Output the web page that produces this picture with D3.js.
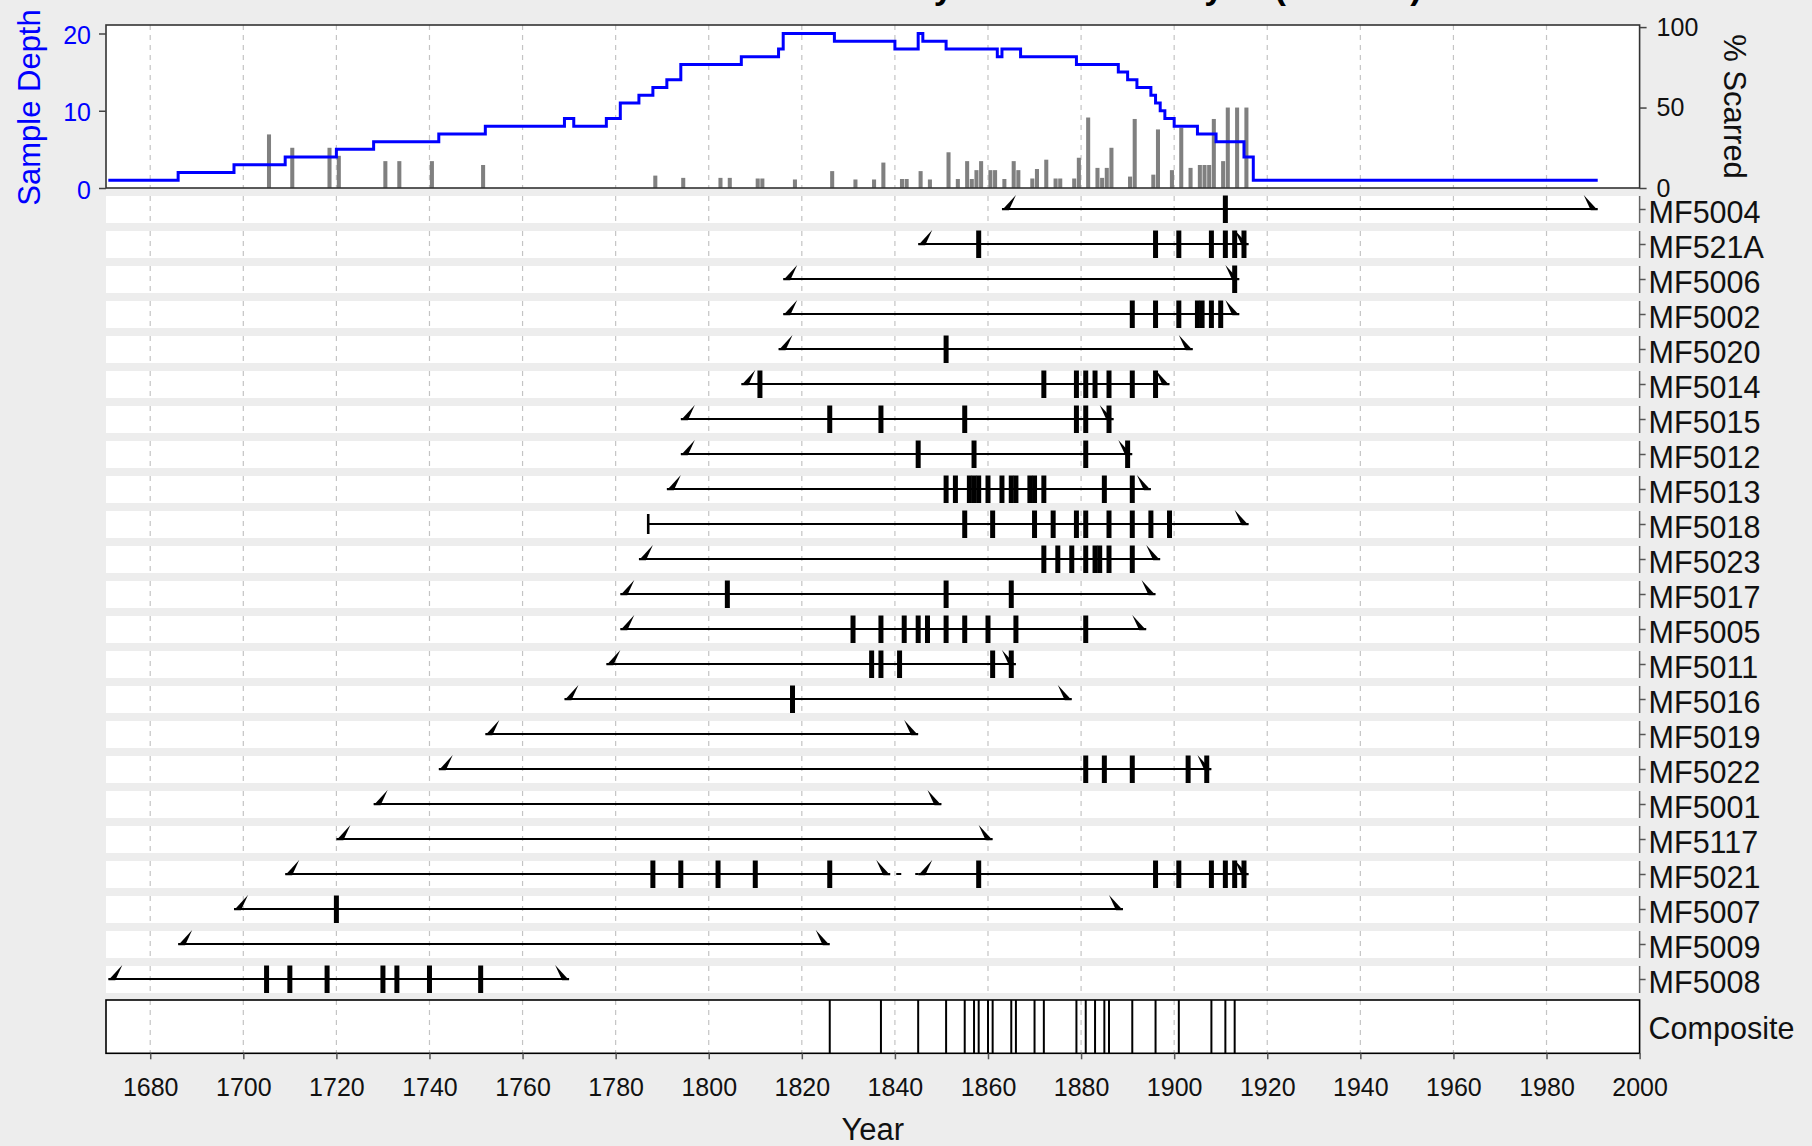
<!DOCTYPE html>
<html>
<head>
<meta charset="utf-8">
<script src="https://cdn.jsdelivr.net/npm/d3@7/dist/d3.min.js"></script>
<style>
    body { margin: 0; background: #ededed; }
    svg { display: block; font-family: "Liberation Sans", Arial, sans-serif; }
</style>
</head>
<body>
<svg id="chart" width="1812" height="1146"></svg>
<script>
// Series, top to bottom
const seriesNames = ["MF5004", "MF521A", "MF5006", "MF5002", "MF5020", "MF5014", "MF5015", "MF5012",
    "MF5013", "MF5018", "MF5023", "MF5017", "MF5005", "MF5011", "MF5016", "MF5019", "MF5022",
    "MF5001", "MF5117", "MF5021", "MF5007", "MF5009", "MF5008"];
const firstYears = [1863, 1845, 1816, 1816, 1815, 1807, 1794, 1794, 1791, 1787, 1785, 1781, 1781,
    1778, 1769, 1752, 1742, 1728, 1720, 1709, 1698, 1686, 1671];
const lastYears = [1991, 1916, 1914, 1914, 1904, 1899, 1887, 1891, 1895, 1916, 1897, 1896, 1894,
    1866, 1878, 1845, 1908, 1850, 1861, 1916, 1889, 1826, 1770];
// series that start at the pith (plain tick instead of a wedge)
const pithSeries = ["MF5018"];
// non-recording gap (dashed)
const gapSeries = ["MF5021"];
const gapFrom = [1839];
const gapTo = [1845];

const scarYears = [
    [1911],
    [1858, 1896, 1901, 1908, 1911, 1913, 1915],
    [1913],
    [1891, 1896, 1901, 1905, 1906, 1908, 1910],
    [1851],
    [1811, 1872, 1879, 1881, 1883, 1886, 1891, 1896],
    [1826, 1837, 1855, 1879, 1881, 1886],
    [1845, 1857, 1881, 1890],
    [1851, 1853, 1856, 1857, 1858, 1860, 1863, 1865, 1866, 1869, 1870, 1872, 1885, 1891],
    [1855, 1861, 1870, 1874, 1879, 1881, 1886, 1891, 1895, 1899],
    [1872, 1875, 1878, 1881, 1883, 1884, 1886, 1891],
    [1804, 1851, 1865],
    [1831, 1837, 1842, 1845, 1847, 1851, 1855, 1860, 1866, 1881],
    [1835, 1837, 1841, 1861, 1865],
    [1818],
    [],
    [1881, 1885, 1891, 1903, 1907],
    [],
    [],
    [1788, 1794, 1802, 1810, 1826, 1858, 1896, 1901, 1908, 1911, 1913, 1915],
    [1720],
    [],
    [1705, 1710, 1718, 1730, 1733, 1740, 1751]
];

// Composite fire years
const compositeYears = [1826, 1837, 1845, 1851, 1855, 1857, 1858, 1860, 1861, 1865, 1866, 1870,
    1872, 1879, 1881, 1883, 1885, 1886, 1891, 1896, 1901, 1908, 1911, 1913];

// Sample depth (step starts)
const depthYears = [1671, 1686, 1698, 1709, 1720, 1728, 1742, 1752, 1769, 1771, 1778, 1781, 1785,
    1788, 1791, 1794, 1807, 1815, 1816, 1827, 1840, 1845, 1846, 1851, 1862, 1863, 1867, 1879, 1888,
    1890, 1892, 1895, 1896, 1897, 1898, 1900, 1905, 1909, 1915, 1917, 1991];
const depthValues = [1, 2, 3, 4, 5, 6, 7, 8, 9, 8, 9, 11, 12, 13, 14, 16, 17, 18, 20, 19, 18, 20,
    19, 18, 17, 18, 17, 16, 15, 14, 13, 12, 11, 10, 9, 8, 7, 6, 4, 1, 1];

// Percent scarred
const pctYears = [1705, 1710, 1718, 1720, 1730, 1733, 1740, 1751, 1788, 1794, 1802, 1804, 1810,
    1811, 1818, 1826, 1831, 1835, 1837, 1841, 1842, 1845, 1847, 1851, 1853, 1855, 1856, 1857, 1858,
    1860, 1861, 1863, 1865, 1866, 1869, 1870, 1872, 1874, 1875, 1878, 1879, 1881, 1883, 1884, 1885,
    1886, 1890, 1891, 1895, 1896, 1899, 1901, 1903, 1905, 1906, 1907, 1908, 1910, 1911, 1913, 1915];
const pctValues = [33.3, 25, 25, 20, 16.7, 16.7, 16.7, 14.3, 7.7, 6.3, 6.3, 6.3, 5.9,
    5.9, 5.3, 10.5, 5.3, 5.3, 15.8, 5.6, 5.6, 10.5, 5.3, 22.2, 5.6, 16.7, 5.6, 11.1, 16.7,
    11.1, 11.1, 5.6, 16.7, 11.1, 5.9, 11.8, 17.6, 5.9, 5.9, 5.9, 18.8, 43.8, 12.5, 6.3, 12.5,
    25, 7.1, 42.9, 8.3, 36.4, 11.1, 37.5, 12.5, 14.3, 14.3, 14.3, 42.9, 16.7, 50, 50, 50];

const xTicks = d3.range(1680, 2001, 20);
const depthTicks = [0, 10, 20];
const pctTicks = [0, 50, 100];

// Layout
const left = 106, right = 1639.6;
const topY = 25, topBottom = 188;
const compTop = 1000, compBottom = 1053.3;

const svg = d3.select("#chart");

const x = d3.scaleLinear().domain([1670.5, 2000]).range([left, right]);
const yDepth = d3.scaleLinear().domain([0, 21.1]).range([topBottom, topY]);
const yPct = d3.scaleLinear().domain([0, 101.3]).range([topBottom, topY]);
const yRow = d3.scalePoint().domain(seriesNames).range([209, 979]);

// Title (cropped at the top of the picture, only descenders show)
svg.append("text")
    .attr("x", 1422)
    .attr("y", -0.8)
    .attr("text-anchor", "end")
    .style("font-size", "35px")
    .style("font-weight", "bold")
    .text("Fire History of Trees Surveyed (MF Site)");

// ---------- top panel ----------
svg.append("rect")
    .attr("x", left).attr("y", topY)
    .attr("width", right - left).attr("height", topBottom - topY)
    .attr("fill", "white");

svg.append("g").selectAll("line")
    .data(xTicks.filter(d => d < 2000))
    .join("line")
    .attr("x1", d => x(d)).attr("x2", d => x(d))
    .attr("y1", topY).attr("y2", topBottom)
    .attr("stroke", "#c4c4c4").attr("stroke-width", 1.2)
    .attr("stroke-dasharray", "5,5");

svg.append("g").selectAll("rect")
    .data(pctYears.map((yr, i) => ({ yr, p: pctValues[i] })))
    .join("rect")
    .attr("x", d => x(d.yr) + 0.4)
    .attr("width", d => x(d.yr + 1) - x(d.yr) - 0.6)
    .attr("y", d => yPct(d.p))
    .attr("height", d => yPct(0) - yPct(d.p))
    .attr("fill", "#808080");

const depthLine = d3.line()
    .x(d => x(d[0]))
    .y(d => yDepth(d[1]))
    .curve(d3.curveStepAfter);

svg.append("path")
    .datum(depthYears.map((yr, i) => [yr, depthValues[i]]))
    .attr("d", depthLine)
    .attr("fill", "none")
    .attr("stroke", "#0000ff")
    .attr("stroke-width", 3);

svg.append("rect")
    .attr("x", left).attr("y", topY)
    .attr("width", right - left).attr("height", topBottom - topY)
    .attr("fill", "none").attr("stroke", "#333").attr("stroke-width", 1.6);

const depthAxis = svg.append("g")
    .attr("transform", `translate(${left},0)`)
    .call(d3.axisLeft(yDepth).tickValues(depthTicks).tickSize(7).tickPadding(8));
depthAxis.select(".domain").remove();
depthAxis.selectAll("line").attr("stroke", "#444").attr("stroke-width", 1.5);
depthAxis.selectAll("text").attr("fill", "#0000ff").attr("dy", "0.4em").style("font-size", "25px");

const pctAxis = svg.append("g")
    .attr("transform", `translate(${right},0)`)
    .call(d3.axisRight(yPct).tickValues(pctTicks).tickSize(7).tickPadding(10));
pctAxis.select(".domain").remove();
pctAxis.selectAll("line").attr("stroke", "#444").attr("stroke-width", 1.5);
pctAxis.selectAll("text").attr("fill", "#111").style("font-size", "25px");

svg.append("text")
    .attr("transform", `translate(40,${(topY + topBottom) / 2 + 1}) rotate(-90)`)
    .attr("text-anchor", "middle")
    .attr("fill", "#0000ff")
    .style("font-size", "31px")
    .text("Sample Depth");

svg.append("text")
    .attr("transform", `translate(1724,${(topY + topBottom) / 2}) rotate(90)`)
    .attr("text-anchor", "middle")
    .attr("fill", "#111")
    .style("font-size", "31px")
    .text("% Scarred");

// ---------- tree rows ----------
const bandTop = -13, bandBottom = 14;
const rows = svg.append("g");

rows.selectAll("rect.band")
    .data(seriesNames)
    .join("rect")
    .attr("class", "band")
    .attr("x", left).attr("width", right - left)
    .attr("y", d => yRow(d) + bandTop)
    .attr("height", bandBottom - bandTop)
    .attr("fill", "white");

seriesNames.forEach(name => {
    rows.append("g").selectAll("line")
        .data(xTicks.filter(d => d < 2000))
        .join("line")
        .attr("x1", d => x(d)).attr("x2", d => x(d))
        .attr("y1", yRow(name) + bandTop).attr("y2", yRow(name) + bandBottom)
        .attr("stroke", "#c4c4c4").attr("stroke-width", 1.2)
        .attr("stroke-dasharray", "5,5");
    rows.append("line")
        .attr("x1", right).attr("x2", right)
        .attr("y1", yRow(name) + bandTop).attr("y2", yRow(name) + bandBottom)
        .attr("stroke", "#666").attr("stroke-width", 1.5);
});

function innerWedge(yr, y) {
    const x0 = x(yr);
    return `M${x0},${y + 1.2}L${x0 + 14},${y - 14}L${x0 + 7},${y + 1.2}Z`;
}
function outerWedge(yr, y) {
    const x1 = x(yr);
    return `M${x1},${y + 1.2}L${x1 - 14},${y - 14}L${x1 - 7},${y + 1.2}Z`;
}

seriesNames.forEach((name, i) => {
    const y = yRow(name);
    const g = rows.append("g");
    const gi = gapSeries.indexOf(name);
    let segments = [[firstYears[i], lastYears[i]]];
    if (gi >= 0) {
        segments = [[firstYears[i], gapFrom[gi]], [gapTo[gi], lastYears[i]]];
        g.append("line")
            .attr("x1", x(gapFrom[gi])).attr("x2", x(gapTo[gi]))
            .attr("y1", y).attr("y2", y)
            .attr("stroke", "black").attr("stroke-width", 2.2)
            .attr("stroke-dasharray", "0,6,5,8");
    }
    segments.forEach(([a, b], k) => {
        g.append("line")
            .attr("x1", x(a)).attr("x2", x(b))
            .attr("y1", y).attr("y2", y)
            .attr("stroke", "black").attr("stroke-width", 2.2);
        if (k === 0 && pithSeries.includes(name)) {
            g.append("line")
                .attr("x1", x(a)).attr("x2", x(a))
                .attr("y1", y - 10).attr("y2", y + 10)
                .attr("stroke", "black").attr("stroke-width", 2.6);
        } else {
            g.append("path").attr("d", innerWedge(a, y)).attr("fill", "black");
        }
        g.append("path").attr("d", outerWedge(b, y)).attr("fill", "black");
    });
    g.selectAll("rect.scar")
        .data(scarYears[i])
        .join("rect")
        .attr("class", "scar")
        .attr("x", d => x(d) - 2.5)
        .attr("width", 5)
        .attr("y", y - 13.5)
        .attr("height", 27.5)
        .attr("fill", "black");
});

const rowAxis = svg.append("g")
    .attr("transform", `translate(${right},0)`)
    .call(d3.axisRight(yRow).tickSize(6).tickPadding(3));
rowAxis.select(".domain").remove();
rowAxis.selectAll("line").attr("stroke", "#555").attr("stroke-width", 1.5);
rowAxis.selectAll("text")
    .attr("fill", "#111")
    .attr("dy", "0.45em")
    .style("font-size", "30.5px");

// ---------- composite ----------
svg.append("rect")
    .attr("x", left).attr("y", compTop)
    .attr("width", right - left).attr("height", compBottom - compTop)
    .attr("fill", "white");

svg.append("g").selectAll("line")
    .data(xTicks.filter(d => d < 2000))
    .join("line")
    .attr("x1", d => x(d)).attr("x2", d => x(d))
    .attr("y1", compTop).attr("y2", compBottom)
    .attr("stroke", "#c4c4c4").attr("stroke-width", 1.2)
    .attr("stroke-dasharray", "5,5");

svg.append("g").selectAll("line")
    .data(compositeYears)
    .join("line")
    .attr("x1", d => x(d)).attr("x2", d => x(d))
    .attr("y1", compTop).attr("y2", compBottom)
    .attr("stroke", "black").attr("stroke-width", 2);

svg.append("rect")
    .attr("x", left).attr("y", compTop)
    .attr("width", right - left).attr("height", compBottom - compTop)
    .attr("fill", "none").attr("stroke", "black").attr("stroke-width", 1.6);

svg.append("text")
    .attr("x", right + 9)
    .attr("y", (compTop + compBottom) / 2 + 12)
    .attr("fill", "#111")
    .style("font-size", "30.5px")
    .text("Composite");

// x axis
const xAxis = svg.append("g")
    .attr("transform", `translate(0,${compBottom})`)
    .call(d3.axisBottom(x).tickValues(xTicks).tickFormat(d3.format("d")).tickSize(6).tickPadding(19));
xAxis.select(".domain").remove();
xAxis.selectAll("line").attr("stroke", "#555").attr("stroke-width", 1.5);
xAxis.selectAll("text").attr("fill", "#111").style("font-size", "25px");

svg.append("text")
    .attr("x", (left + right) / 2)
    .attr("y", 1140)
    .attr("text-anchor", "middle")
    .attr("fill", "#111")
    .style("font-size", "31px")
    .text("Year");
</script>
</body>
</html>
